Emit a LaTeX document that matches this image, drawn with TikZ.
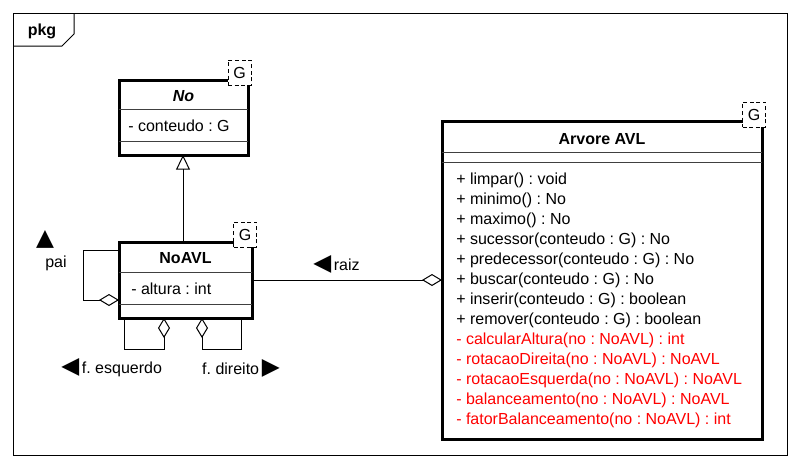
\documentclass[tikz,border=0pt]{standalone}
\usepackage{fontspec}
\setmainfont{Liberation Sans}
\newfontfamily\symfont{DejaVu Sans}
\usetikzlibrary{arrows.meta}
\definecolor{umlred}{HTML}{FF0000}
\newcommand{\tri}{\symfont\fontsize{17.5}{17.5}\selectfont}
\frenchspacing
\begin{document}
\begin{tikzpicture}[x=0.75pt,y=-0.75pt,
  font=\fontsize{12}{14}\selectfont\frenchspacing,
  classbox/.style={draw, line width=2.25pt, fill=white, inner sep=0pt, outer sep=0pt},
  sepline/.style={line width=0.75pt, draw=black!75},
  gbox/.style={draw, dashed, dash pattern=on 3pt off 2pt, line width=0.75pt, fill=white,
    inner sep=0pt, minimum width=17.25pt, minimum height=18.75pt},
  member/.style={anchor=west, inner sep=0pt},
  redmember/.style={member, text=umlred},
  lbl/.style={inner sep=0pt},
  agg/.style={-{Diamond[open,length=15pt,width=9pt]}, line width=0.75pt},
  inherit/.style={-{Triangle[open,length=11pt,width=10.5pt]}, line width=0.75pt}
]
\useasboundingbox (0,0) rectangle (798,468);
% package frame
\draw[line width=0.75pt] (13,13) rectangle (787,455);
\draw[line width=0.75pt] (13,46) -- (62,46) -- (74,34) -- (74,13);
\node[lbl, font=\fontsize{12}{14}\selectfont\bfseries] (pkg) at (42,31) {pkg};

% class No
\node[classbox, minimum width=129*0.75pt, minimum height=75*0.75pt] (no) at (183.5,117.5) {};
\draw[sepline] (no.west |- 0,109) -- (no.east |- 0,109);
\draw[sepline] (no.west |- 0,141) -- (no.east |- 0,141);
\node[lbl, font=\fontsize{12}{14}\selectfont\bfseries\itshape] (notitle) at (183.5,96) {No};
\node[member] (noattr) at (128,126) {- conteudo : G};
\node[gbox] (nog) at (239.5,72.5) {G};

% class NoAVL
\node[classbox, minimum width=133*0.75pt, minimum height=76*0.75pt] (noavl) at (185.5,280) {};
\draw[sepline] (noavl.west |- 0,272) -- (noavl.east |- 0,272);
\draw[sepline] (noavl.west |- 0,304) -- (noavl.east |- 0,304);
\node[lbl, font=\fontsize{12}{14}\selectfont\bfseries] (noavltitle) at (185.5,258) {NoAVL};
\node[member] (noavlattr) at (131,289) {- altura : int};
\node[gbox] (noavlg) at (245,234.5) {G};

% class Arvore AVL
\node[classbox, minimum width=320*0.75pt, minimum height=318*0.75pt] (arv) at (602,280) {};
\draw[sepline] (arv.west |- 0,152) -- (arv.east |- 0,152);
\draw[sepline] (arv.west |- 0,162) -- (arv.east |- 0,162);
\node[lbl, font=\fontsize{12}{14}\selectfont\bfseries] (arvtitle) at (602,139) {Arvore AVL};
\node[member] (m1) at (456,180) {+ limpar() : void};
\node[member] (m2) at (456,200) {+ minimo() : No};
\node[member] (m3) at (456,220) {+ maximo() : No};
\node[member] (m4) at (456,240) {+ sucessor(conteudo : G) : No};
\node[member] (m5) at (456,260) {+ predecessor(conteudo : G) : No};
\node[member] (m6) at (456,280) {+ buscar(conteudo : G) : No};
\node[member] (m7) at (456,300) {+ inserir(conteudo : G) : boolean};
\node[member] (m8) at (456,320) {+ remover(conteudo : G) : boolean};
\node[redmember] (m9) at (456,340) {- calcularAltura(no : NoAVL) : int};
\node[redmember] (m10) at (456,360) {- rotacaoDireita(no : NoAVL) : NoAVL};
\node[redmember] (m11) at (456,380) {- rotacaoEsquerda(no : NoAVL) : NoAVL};
\node[redmember] (m12) at (456,400) {- balanceamento(no : NoAVL) : NoAVL};
\node[redmember] (m13) at (456,420) {- fatorBalanceamento(no : NoAVL) : int};
\node[gbox] (arvg) at (754,114.5) {G};

% inheritance
\draw[inherit] (noavl.north -| 183,0) -- (no.south -| 183,0);

% self associations
\draw[agg] (noavl.west |- 0,250) -- (83,250) -- (83,300) -- (noavl.west |- 0,300);
\draw[agg] (noavl.south -| 124,0) -- (124,349) -- (164,349) -- (noavl.south -| 164,0);
\draw[agg] (noavl.south -| 241,0) -- (241,349) -- (202,349) -- (noavl.south -| 202,0);

% raiz association
\draw[agg] (noavl.east) -- (arv.west);

% labels
\node[lbl] (tpai) at (45,239) {\tri ▲};
\node[lbl] (lpai) at (56,263) {pai};
\node[lbl, anchor=west] (lesq) at (61,368) {{\tri ◀}\,f. esquerdo};
\node[lbl, anchor=east] (ldir) at (280,368) {f. direito\,{\tri ▶}};
\node[lbl, anchor=west] (lraiz) at (313,264) {{\tri ◀}\,raiz};
\end{tikzpicture}
\end{document}
